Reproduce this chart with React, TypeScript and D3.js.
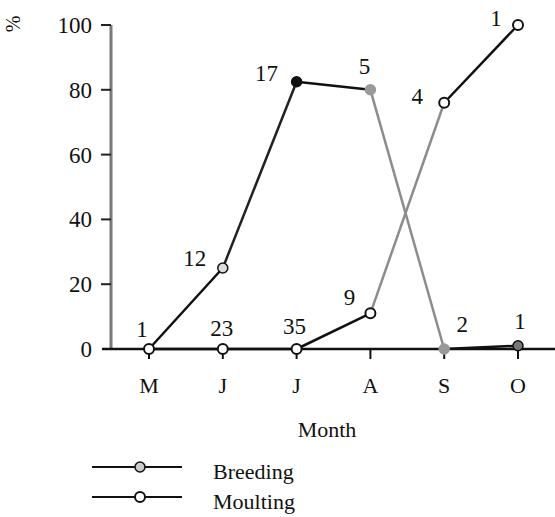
import React from "react";
import * as d3 from "d3";

const months = ["M", "J", "J", "A", "S", "O"];
const breeding = [0, 25, 82.5, 80, 0, 1];
const moulting = [0, 0, 0, 11, 76, 100];
const yTicks = [0, 20, 40, 60, 80, 100];
// sample sizes annotated next to each point
const breedingN = ["1", "12", "17", "5", "2", "1"];
const moultingN = ["", "23", "35", "9", "4", "1"];

// styles (kept separate from the data)
const breedingSegColors = ["#111", "#222", "#111", "#8c8c8c", "#111"];
const moultingSegColors = ["#111", "#111", "#111", "#8c8c8c", "#111"];
const breedingFill = ["#fff", "#ddd", "#111", "#999", "#999", "#777"];
const breedingLabelOff: [number, number][] = [
  [-7, -12], [-28, -2], [-30, -1], [-6, -16], [18, -17], [2, -17],
];
const moultingLabelOff: [number, number][] = [
  [0, 0], [-1, -13], [-2, -15], [-21, -8], [-27, 1], [-22, 1],
];

const FONT = "Liberation Serif, Tinos, Times New Roman, DejaVu Serif, serif";

export default function App() {
  const W = 555, H = 517;
  const x = d3.scalePoint<number>().domain(months.map((_, i) => i)).range([149, 518]);
  const y = d3.scaleLinear().domain([0, 100]).range([349, 25]);
  const xi = (i: number) => x(i) as number;
  const ts = { fontFamily: FONT } as React.CSSProperties;

  const segs = (vals: number[], colors: string[], key: string) =>
    vals.slice(0, -1).map((v, i) => (
      <line
        key={key + i}
        x1={xi(i)} y1={y(v)} x2={xi(i + 1)} y2={y(vals[i + 1])}
        stroke={colors[i]} strokeWidth={2.5} strokeLinecap="round"
      />
    ));

  return (
    <svg
      width={W} height={H}
      style={{ position: "absolute", left: 0, top: 0, background: "#fff", fontFamily: FONT }}
    >
      {/* y axis */}
      <line x1={111} y1={y(100)} x2={111} y2={y(0)} stroke="#7a7a7a" strokeWidth={3} />
      {yTicks.map((t) => (
        <g key={"yt" + t}>
          {t > 0 && (
            <line x1={101} x2={111} y1={y(t)} y2={y(t)} stroke="#222" strokeWidth={2} />
          )}
          <text x={92} y={y(t) + 8} fontSize={23} textAnchor="end" fill="#111" style={ts}>{t}</text>
        </g>
      ))}
      <text
        transform={`translate(20,24) rotate(-90)`}
        fontSize={20} textAnchor="middle" fill="#111" style={ts}
      >%</text>

      {/* x axis */}
      <line x1={102} x2={555} y1={y(0)} y2={y(0)} stroke="#111" strokeWidth={2.5} />
      {months.map((m, i) => (
        <g key={"xt" + i}>
          <line x1={xi(i)} x2={xi(i)} y1={y(0)} y2={y(0) + 10} stroke="#111" strokeWidth={2} />
          <text x={xi(i)} y={393} fontSize={22} textAnchor="middle" fill="#111" style={ts}>{m}</text>
        </g>
      ))}
      <text x={327} y={437} fontSize={22} textAnchor="middle" fill="#111" style={ts}>Month</text>

      {/* series lines */}
      {segs(moulting, moultingSegColors, "ms")}
      {segs(breeding, breedingSegColors, "bs")}

      {/* markers */}
      {moulting.map((v, i) => (
        <circle key={"mc" + i} cx={xi(i)} cy={y(v)} r={5} fill="#fff" stroke="#111" strokeWidth={2} />
      ))}
      {breeding.map((v, i) =>
        i === 0 ? null : (
          <circle key={"bc" + i} cx={xi(i)} cy={y(v)} r={5} fill={breedingFill[i]} stroke={i >= 3 && i <= 4 ? "#999" : "#111"} strokeWidth={1.5} />
        )
      )}

      {/* sample-size labels */}
      {breedingN.map((n, i) => (
        <text key={"bn" + i} x={xi(i) + breedingLabelOff[i][0]} y={y(breeding[i]) + breedingLabelOff[i][1]}
          fontSize={23} textAnchor="middle" fill="#111" style={ts}>{n}</text>
      ))}
      {moultingN.map((n, i) => (
        <text key={"mn" + i} x={xi(i) + moultingLabelOff[i][0]} y={y(moulting[i]) + moultingLabelOff[i][1]}
          fontSize={23} textAnchor="middle" fill="#111" style={ts}>{n}</text>
      ))}

      {/* legend */}
      <line x1={92} x2={182} y1={467} y2={467} stroke="#111" strokeWidth={2} />
      <circle cx={140} cy={467} r={5} fill="#ccc" stroke="#111" strokeWidth={1.5} />
      <text x={213} y={479} fontSize={22} fill="#111" style={ts}>Breeding</text>
      <line x1={92} x2={182} y1={497} y2={497} stroke="#111" strokeWidth={2} />
      <circle cx={140} cy={497} r={5} fill="#fff" stroke="#111" strokeWidth={2} />
      <text x={213} y={509} fontSize={22} fill="#111" style={ts}>Moulting</text>
    </svg>
  );
}
